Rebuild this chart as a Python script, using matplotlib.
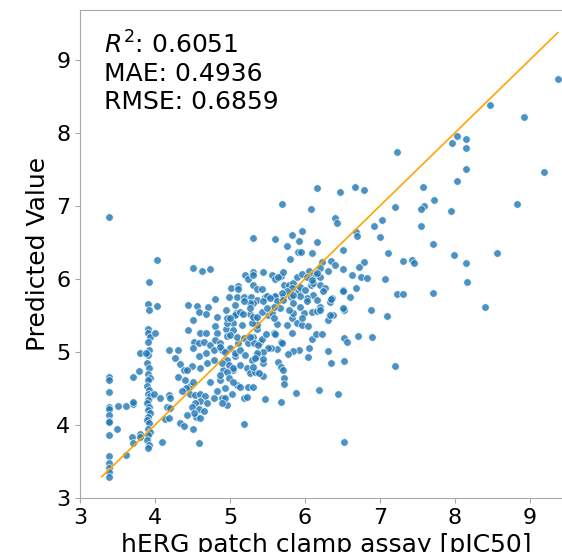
import numpy as np
import matplotlib
matplotlib.use("Agg")
import matplotlib.pyplot as plt

# measured hERG pIC50 vs model prediction, grouped by area of the plot
left_x = [3.39, 3.39, 3.38, 3.39, 3.39, 3.38, 3.39, 3.39, 3.38, 3.39, 3.39, 3.38, 3.39, 3.38, 3.39,
          3.50, 3.61, 3.70, 3.70, 3.49, 3.61, 3.70, 3.69, 3.70, 3.80, 3.80, 3.79, 3.80]
left_y = [6.84, 4.66, 4.62, 4.45, 4.24, 4.22, 4.14, 4.05, 4.04, 3.86, 3.58, 3.48, 3.41, 3.35, 3.29,
          4.26, 4.26, 4.29, 4.31, 3.95, 3.59, 4.65, 3.84, 3.75, 3.88, 3.84, 4.74, 4.99]

col_x = [3.92, 3.91, 3.92, 3.90, 3.91, 3.93, 3.90, 3.92, 3.91, 3.89, 3.92, 3.90, 3.93, 3.91, 3.89, 3.92,
         3.90, 3.93, 3.91, 3.89, 3.92, 3.90, 3.93, 3.91, 3.89, 3.92, 3.90, 3.93, 3.91, 3.89, 3.92, 3.91, 3.88]
col_y = [5.96, 5.65, 5.58, 5.31, 5.26, 5.21, 5.13, 5.03, 4.96, 4.85, 4.78, 4.70, 4.64, 4.62, 4.53, 4.48,
         4.43, 4.39, 4.34, 4.30, 4.25, 4.21, 4.16, 4.11, 4.07, 4.02, 3.95, 3.91, 3.86, 3.79, 3.73, 3.68, 4.98]

low_x = [4.02, 4.00, 3.99, 4.07, 4.09, 4.03, 4.19, 4.20, 4.16, 4.13, 4.18, 4.20, 4.33, 4.39, 4.51, 4.59,
         4.19, 4.30, 4.26,
         4.33, 4.38, 4.30, 4.40, 4.47, 4.51, 4.41, 4.36, 4.47, 4.53, 4.60, 4.67, 4.60, 4.53, 4.49, 4.58,
         4.65, 4.55, 4.60, 4.52, 4.42, 4.69, 4.78, 4.82, 4.73, 4.87, 4.93, 4.89, 4.96, 5.02, 5.09]
low_y = [5.63, 5.26, 4.43, 4.37, 3.77, 6.26, 4.41, 4.37, 4.25, 4.08, 4.09, 4.23, 4.02, 3.99, 3.94, 3.75,
         5.03, 5.03, 4.91,
         4.83, 4.75, 4.66, 4.62, 4.53, 4.59, 4.51, 4.46, 4.43, 4.41, 4.43, 4.39, 4.33, 4.30, 4.24, 4.22,
         4.19, 4.11, 4.09, 4.16, 4.14, 4.30, 4.37, 4.46, 4.59, 4.62, 4.50, 4.37, 4.27, 4.43, 4.55]

mid_x = [4.44, 4.56, 4.70, 4.80, 4.59, 4.68, 4.50, 4.82, 4.95, 5.08, 5.04, 4.80, 4.95, 4.44, 4.60, 4.68,
         4.82, 4.96, 4.52, 4.58, 4.65, 4.73, 4.51, 4.58, 4.68, 4.78, 4.89, 5.00, 5.07, 4.96, 4.78, 4.69,
         4.60, 4.49, 4.42, 4.91, 5.04, 5.11, 4.96, 4.80, 4.87,
         4.96, 5.07, 5.13, 5.27, 5.33, 5.16, 5.04, 5.00, 5.09, 5.18, 5.24, 5.31, 5.36, 4.87, 4.93, 5.07,
         5.13, 5.20, 5.29, 5.36, 4.89, 4.98, 5.04, 5.13, 5.22, 5.27, 5.33, 4.96, 4.87, 4.98, 5.04, 5.13,
         5.24, 5.18, 5.22, 4.93, 4.89, 5.19]
mid_y = [5.64, 5.63, 5.62, 5.72, 5.54, 5.52, 5.44, 5.48, 5.57, 5.53, 5.39, 5.36, 5.31, 5.30, 5.26, 5.26,
         5.26, 5.22, 5.14, 5.12, 5.13, 5.10, 5.05, 4.95, 4.98, 5.03, 5.03, 5.05, 4.94, 4.89, 4.89, 4.85,
         4.78, 4.81, 4.75, 4.75, 4.75, 5.12, 5.39, 5.16, 5.12,
         5.46, 5.51, 5.55, 5.52, 5.44, 5.37, 5.30, 5.23, 5.21, 5.19, 5.12, 5.21, 5.32, 5.07, 5.00, 4.98,
         5.03, 4.96, 4.89, 4.94, 4.85, 4.82, 4.78, 4.82, 4.78, 4.71, 4.73, 4.73, 4.68, 4.64, 4.59, 4.52,
         4.52, 4.37, 4.38, 4.37, 4.30, 4.01]

core_x = [5.47, 5.68, 5.88, 6.19, 6.44, 6.52, 5.72, 5.72, 5.64, 5.68, 5.70, 5.44, 5.44, 5.30, 6.35, 6.52,
          6.30, 6.04, 6.05, 5.92, 5.84, 5.77, 6.09, 6.14, 6.22, 5.83, 6.52, 6.56, 6.70, 6.89, 6.30, 6.37,
          6.52, 6.88, 5.68, 5.69, 5.62, 5.54, 5.51, 5.44, 5.36, 5.40, 5.43, 5.32, 5.37, 5.27, 5.59, 5.60,
          5.48, 5.33, 5.31, 5.38, 5.44, 5.62, 5.76, 5.83, 5.89, 5.96, 6.04, 5.84, 5.98, 6.09, 6.16, 5.96,
          5.51, 5.56, 5.58, 5.36, 5.29, 5.31, 5.42]
core_y = [4.36, 4.31, 4.44, 4.48, 4.42, 3.77, 4.64, 4.56, 4.86, 4.80, 4.75, 4.85, 4.67, 4.52, 4.85, 4.88,
          5.01, 4.93, 5.05, 5.03, 5.01, 4.97, 5.17, 5.25, 5.25, 5.26, 5.19, 5.14, 5.22, 5.21, 5.44, 5.51,
          5.58, 5.57, 5.14, 5.12, 5.04, 5.06, 5.06, 5.00, 4.99, 5.13, 5.18, 5.12, 5.10, 5.20, 5.26, 5.24,
          5.25, 4.91, 4.80, 4.71, 4.90, 5.38, 5.37, 5.46, 5.40, 5.37, 5.36, 5.53, 5.53, 5.55, 5.56, 5.46,
          5.51, 5.53, 5.47, 5.37, 5.39, 5.48, 5.55]

upper_x = [4.98, 5.09, 5.18, 5.28, 5.47, 5.58, 5.70, 5.81,
           5.01, 5.10, 5.11, 5.31, 5.36, 5.42, 5.72, 5.78, 5.84, 5.90, 6.08,
           5.30, 5.20, 5.24, 5.31, 5.56, 5.60, 5.68, 5.71, 5.89, 5.96, 6.05, 6.10, 6.14, 5.44, 5.80, 5.90, 5.95,
           5.82, 5.93, 6.00, 6.11, 6.20, 6.27, 6.24, 6.10, 6.02, 5.93, 5.84, 5.76, 5.69, 5.60, 5.49, 5.36,
           5.44, 5.53, 5.62, 5.71, 5.84, 5.93, 6.02, 6.16, 6.20, 6.36, 6.33, 6.51, 6.51, 6.33, 6.20, 5.78,
           5.67, 5.58, 5.49, 5.31,
           5.64, 6.02, 6.09, 6.20,
           5.27, 5.18, 5.07, 5.17, 5.27, 5.36, 5.00]
upper_y = [5.75, 5.75, 5.75, 5.75, 5.75, 5.75, 5.75, 5.75,
           5.87, 5.90, 5.86, 5.91, 5.86, 5.86, 5.92, 5.91, 5.94, 5.84, 5.91,
           6.09, 6.05, 6.00, 6.05, 6.05, 6.00, 6.04, 6.10, 6.02, 6.06, 6.11, 6.06, 6.05, 6.10, 6.27, 6.37, 6.37,
           5.87, 5.89, 5.85, 5.94, 5.92, 5.87, 5.83, 5.78, 5.74, 5.76, 5.78, 5.83, 5.80, 5.77, 5.77, 5.71,
           5.69, 5.74, 5.69, 5.71, 5.67, 5.62, 5.69, 5.71, 5.62, 5.74, 5.68, 5.85, 5.60, 5.51, 5.58, 5.58,
           5.60, 5.62, 5.60, 5.67,
           6.03, 6.03, 5.98, 6.02,
           5.67, 5.70, 5.64, 5.52, 5.60, 5.48, 5.46]

top_x = [4.51, 4.63, 4.73, 5.30, 5.69, 5.60, 5.82, 5.76, 5.96, 5.92, 6.08, 6.16, 6.16]
top_y = [6.15, 6.11, 6.13, 6.56, 7.03, 6.54, 6.60, 6.45, 6.66, 6.52, 6.95, 7.24, 6.51]

right_x = [8.46, 8.92, 7.22, 7.96, 8.03, 8.14, 8.15, 8.15, 8.02, 9.18, 8.83, 7.57, 7.72, 7.59, 7.54, 7.94,
           7.20, 7.54, 7.70, 7.99, 8.56, 8.14, 8.16, 7.70, 7.22, 7.30, 7.43, 7.45, 7.30, 7.10, 7.06, 7.00,
           7.02, 6.92, 6.67, 6.79, 6.46, 6.40, 6.43, 6.68, 6.69, 6.50, 6.09, 6.78, 6.72, 6.23, 6.35, 6.40,
           6.50, 6.30, 6.20, 6.16, 6.62, 6.75, 6.82, 6.68, 6.51, 6.60, 6.34, 8.40, 7.09, 7.20, 9.37]
right_y = [8.38, 8.22, 7.73, 7.86, 7.95, 7.91, 7.79, 7.51, 7.34, 7.46, 7.03, 7.26, 7.08, 7.00, 6.96, 6.93,
           6.98, 6.73, 6.48, 6.32, 6.36, 6.21, 5.95, 5.81, 5.79, 5.79, 6.26, 6.21, 6.24, 6.36, 6.00, 6.57,
           6.80, 6.73, 7.26, 7.22, 7.19, 6.83, 6.77, 6.64, 6.58, 6.39, 6.36, 6.23, 6.16, 6.23, 6.24, 6.19,
           6.14, 6.11, 6.15, 6.08, 6.05, 6.02, 6.01, 5.88, 5.84, 5.75, 5.73, 5.62, 5.49, 4.81, 8.73]

measured = np.array(left_x + col_x + low_x + mid_x + core_x + upper_x + top_x + right_x)
predicted = np.array(left_y + col_y + low_y + mid_y + core_y + upper_y + top_y + right_y)

r2, mae, rmse = 0.6051, 0.4936, 0.6859

fig = plt.figure(figsize=(5.62, 5.52), dpi=100)
# axes run slightly past the right edge of the canvas
ax = fig.add_axes([80 / 562, 54 / 552, 492 / 562, 488 / 552])

ax.scatter(measured, predicted, s=30, color="#1f77b4", alpha=0.8,
           edgecolor="white", linewidth=0.6, zorder=2)

lo = min(measured.min(), predicted.min())
hi = max(measured.max(), predicted.max())
ax.plot([lo, hi], [lo, hi], color="orange", lw=1.2, zorder=3)

ax.set_xlim(3, 3 + 492 / 75)
ax.set_ylim(3, 9.68)
ax.set_xticks(range(3, 10))
ax.set_yticks(range(3, 10))
ax.tick_params(labelsize=16, length=3.5, color="#a8a8a8")
for sp in ax.spines.values():
    sp.set_color("#a8a8a8")

ax.set_xlabel("hERG patch clamp assay [pIC50]", fontsize=18)
ax.set_ylabel("Predicted Value", fontsize=18)

ax.text(0.048, 0.957, f"$R^2$: {r2:.4f}\nMAE: {mae:.4f}\nRMSE: {rmse:.4f}",
        transform=ax.transAxes, fontsize=18, va="top", ha="left")

fig.savefig("out.png", dpi=100)
